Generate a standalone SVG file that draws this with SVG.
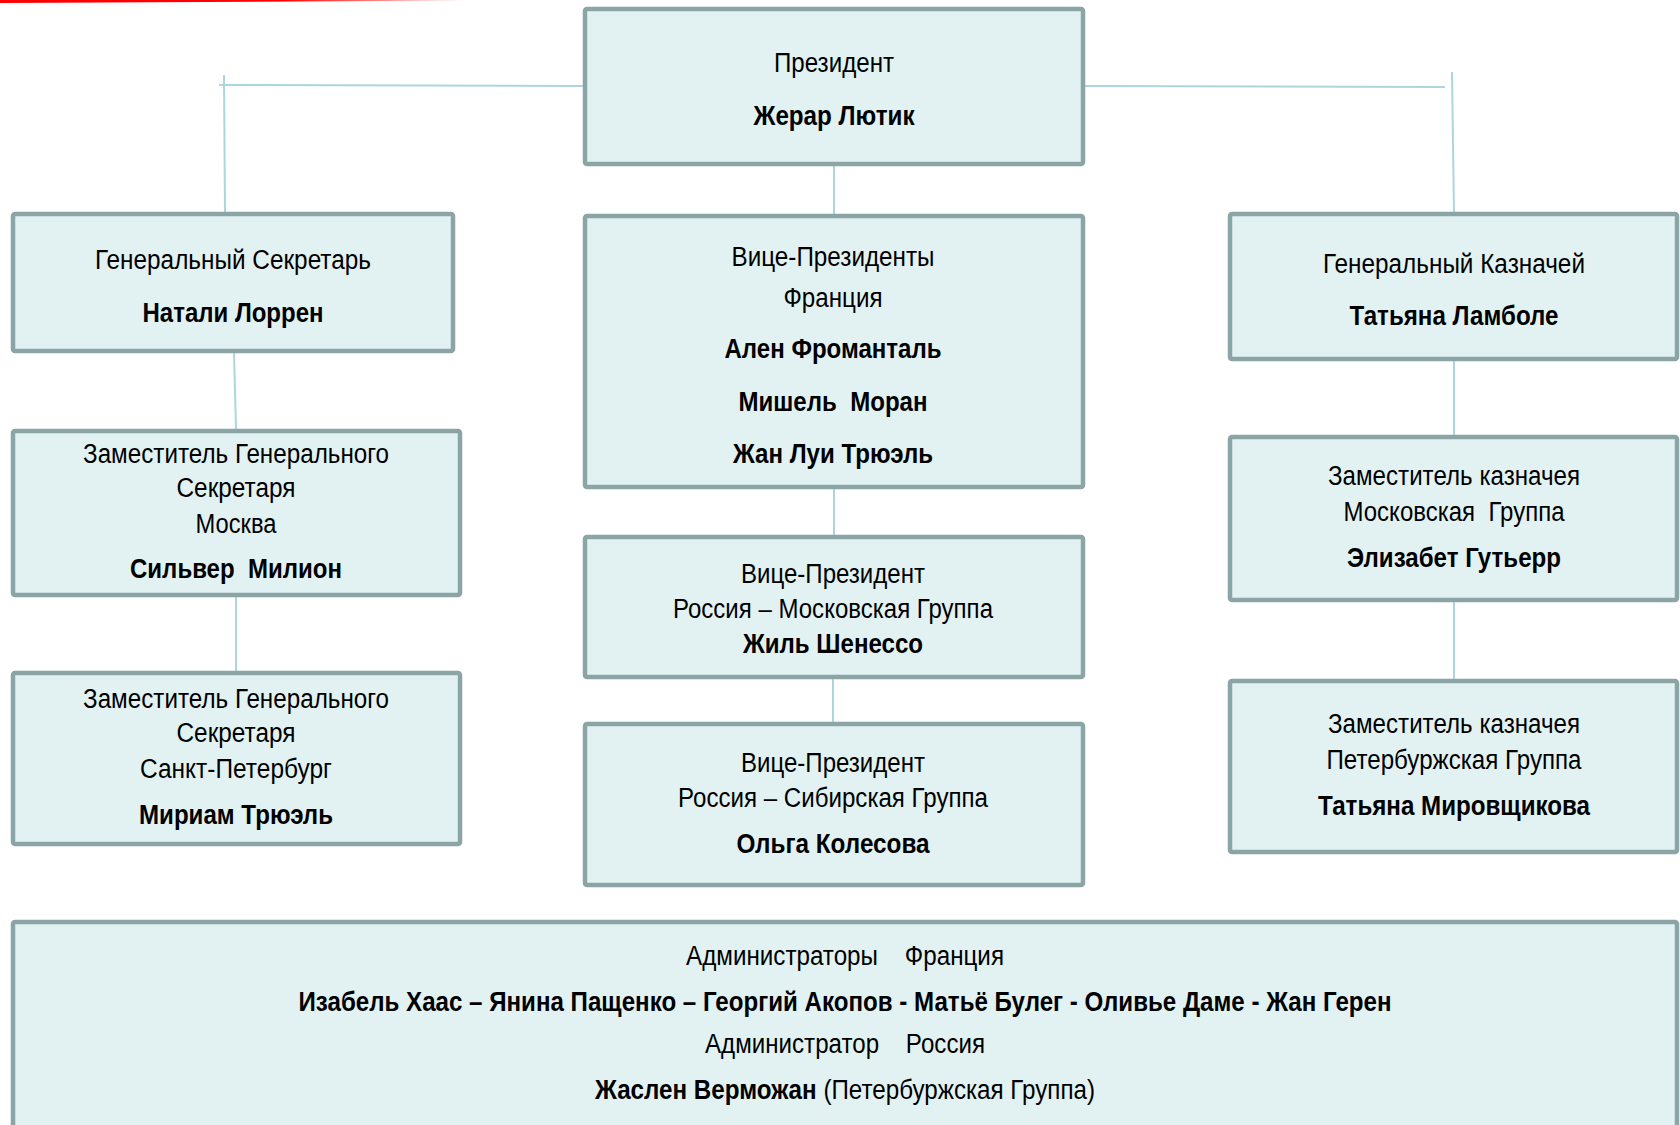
<svg xmlns="http://www.w3.org/2000/svg" width="1680" height="1125" viewBox="0 0 1680 1125">
<defs>
<linearGradient id="red" x1="0" y1="0" x2="1" y2="0">
<stop offset="0" stop-color="#ff0000"/>
<stop offset="0.6" stop-color="#ff0000"/>
<stop offset="1" stop-color="#ff0000" stop-opacity="0"/>
</linearGradient>
<style>
.box{fill:#e2f2f2;stroke:#8ba4a6;stroke-width:4.5}
.c{stroke:#acd6db;stroke-width:2;fill:none}
text{font-family:"Liberation Sans",Arial,sans-serif;font-size:27px;fill:#000;text-anchor:middle}
.b{font-weight:bold}
</style>
</defs>
<rect width="1680" height="1125" fill="#fff"/>
<polygon points="0,0 470,0 470,0.6 0,3" fill="url(#red)"/>
<g id="connectors">
<line class="c" x1="219" y1="85" x2="583" y2="86"/>
<line class="c" x1="224" y1="75" x2="225" y2="214"/>
<line class="c" x1="1085" y1="86" x2="1445" y2="87"/>
<line class="c" x1="1452" y1="72" x2="1454" y2="214"/>
<line class="c" x1="834" y1="166" x2="834" y2="214"/>
<line class="c" x1="234" y1="353" x2="236" y2="429"/>
<line class="c" x1="236" y1="597" x2="236" y2="671"/>
<line class="c" x1="834" y1="489" x2="834" y2="535"/>
<line class="c" x1="833" y1="679" x2="833" y2="722"/>
<line class="c" x1="1454" y1="361" x2="1454" y2="435"/>
<line class="c" x1="1454" y1="602" x2="1454" y2="679"/>
</g>
<g id="president">
<rect class="box" x="585" y="9" width="498" height="155" rx="2"/>
<text x="834" y="72" textLength="120" lengthAdjust="spacingAndGlyphs">Президент</text>
<text class="b" x="834" y="125" textLength="161" lengthAdjust="spacingAndGlyphs">Жерар Лютик</text>
</g>
<g id="gen-secretary">
<rect class="box" x="13" y="214" width="440" height="137" rx="2"/>
<text x="233" y="269" textLength="276" lengthAdjust="spacingAndGlyphs">Генеральный Секретарь</text>
<text class="b" x="233" y="322" textLength="181" lengthAdjust="spacingAndGlyphs">Натали Лоррен</text>
</g>
<g id="vp-france">
<rect class="box" x="585" y="216" width="498" height="271" rx="2"/>
<text x="833" y="266" textLength="203" lengthAdjust="spacingAndGlyphs">Вице-Президенты</text>
<text x="833" y="307" textLength="99" lengthAdjust="spacingAndGlyphs">Франция</text>
<text class="b" x="833" y="358" textLength="217" lengthAdjust="spacingAndGlyphs">Ален Фроманталь</text>
<text class="b" x="833" y="411" xml:space="preserve" textLength="189" lengthAdjust="spacingAndGlyphs">Мишель  Моран</text>
<text class="b" x="833" y="463" textLength="200" lengthAdjust="spacingAndGlyphs">Жан Луи Трюэль</text>
</g>
<g id="gen-treasurer">
<rect class="box" x="1230" y="214" width="447" height="145" rx="2"/>
<text x="1454" y="273" textLength="262" lengthAdjust="spacingAndGlyphs">Генеральный Казначей</text>
<text class="b" x="1454" y="325" textLength="209" lengthAdjust="spacingAndGlyphs">Татьяна Ламболе</text>
</g>
<g id="dep-sec-moscow">
<rect class="box" x="13" y="431" width="447" height="164" rx="2"/>
<text x="236" y="463" textLength="306" lengthAdjust="spacingAndGlyphs">Заместитель Генерального</text>
<text x="236" y="497" textLength="119" lengthAdjust="spacingAndGlyphs">Секретаря</text>
<text x="236" y="533" textLength="81" lengthAdjust="spacingAndGlyphs">Москва</text>
<text class="b" x="236" y="578" xml:space="preserve" textLength="212" lengthAdjust="spacingAndGlyphs">Сильвер  Милион</text>
</g>
<g id="vp-russia-moscow">
<rect class="box" x="585" y="537" width="498" height="140" rx="2"/>
<text x="833" y="583" textLength="184" lengthAdjust="spacingAndGlyphs">Вице-Президент</text>
<text x="833" y="618" textLength="320" lengthAdjust="spacingAndGlyphs">Россия – Московская Группа</text>
<text class="b" x="833" y="653" textLength="180" lengthAdjust="spacingAndGlyphs">Жиль Шенессо</text>
</g>
<g id="dep-treas-moscow">
<rect class="box" x="1230" y="437" width="447" height="163" rx="2"/>
<text x="1454" y="485" textLength="252" lengthAdjust="spacingAndGlyphs">Заместитель казначея</text>
<text x="1454" y="521" xml:space="preserve" textLength="221" lengthAdjust="spacingAndGlyphs">Московская  Группа</text>
<text class="b" x="1454" y="567" textLength="214" lengthAdjust="spacingAndGlyphs">Элизабет Гутьерр</text>
</g>
<g id="dep-sec-spb">
<rect class="box" x="13" y="673" width="447" height="171" rx="2"/>
<text x="236" y="708" textLength="306" lengthAdjust="spacingAndGlyphs">Заместитель Генерального</text>
<text x="236" y="742" textLength="119" lengthAdjust="spacingAndGlyphs">Секретаря</text>
<text x="236" y="778" textLength="192" lengthAdjust="spacingAndGlyphs">Санкт-Петербург</text>
<text class="b" x="236" y="824" textLength="194" lengthAdjust="spacingAndGlyphs">Мириам Трюэль</text>
</g>
<g id="vp-russia-siberia">
<rect class="box" x="585" y="724" width="498" height="161" rx="2"/>
<text x="833" y="772" textLength="184" lengthAdjust="spacingAndGlyphs">Вице-Президент</text>
<text x="833" y="807" textLength="310" lengthAdjust="spacingAndGlyphs">Россия – Сибирская Группа</text>
<text class="b" x="833" y="853" textLength="193" lengthAdjust="spacingAndGlyphs">Ольга Колесова</text>
</g>
<g id="dep-treas-spb">
<rect class="box" x="1230" y="681" width="447" height="171" rx="2"/>
<text x="1454" y="733" textLength="252" lengthAdjust="spacingAndGlyphs">Заместитель казначея</text>
<text x="1454" y="769" textLength="255" lengthAdjust="spacingAndGlyphs">Петербуржская Группа</text>
<text class="b" x="1454" y="815" textLength="272" lengthAdjust="spacingAndGlyphs">Татьяна Мировщикова</text>
</g>
<g id="administrators">
<rect class="box" x="13" y="922" width="1664" height="230" rx="2"/>
<text x="845" y="965" xml:space="preserve" textLength="318" lengthAdjust="spacingAndGlyphs">Администраторы    Франция</text>
<text class="b" x="845" y="1011" textLength="1093" lengthAdjust="spacingAndGlyphs">Изабель Хаас – Янина Пащенко – Георгий Акопов - Матьё Булег - Оливье Даме - Жан Герен</text>
<text x="845" y="1053" xml:space="preserve" textLength="280" lengthAdjust="spacingAndGlyphs">Администратор    Россия</text>
<text x="845" y="1099" textLength="500" lengthAdjust="spacingAndGlyphs"><tspan class="b">Жаслен Верможан</tspan> (Петербуржская Группа)</text>
</g>
</svg>
